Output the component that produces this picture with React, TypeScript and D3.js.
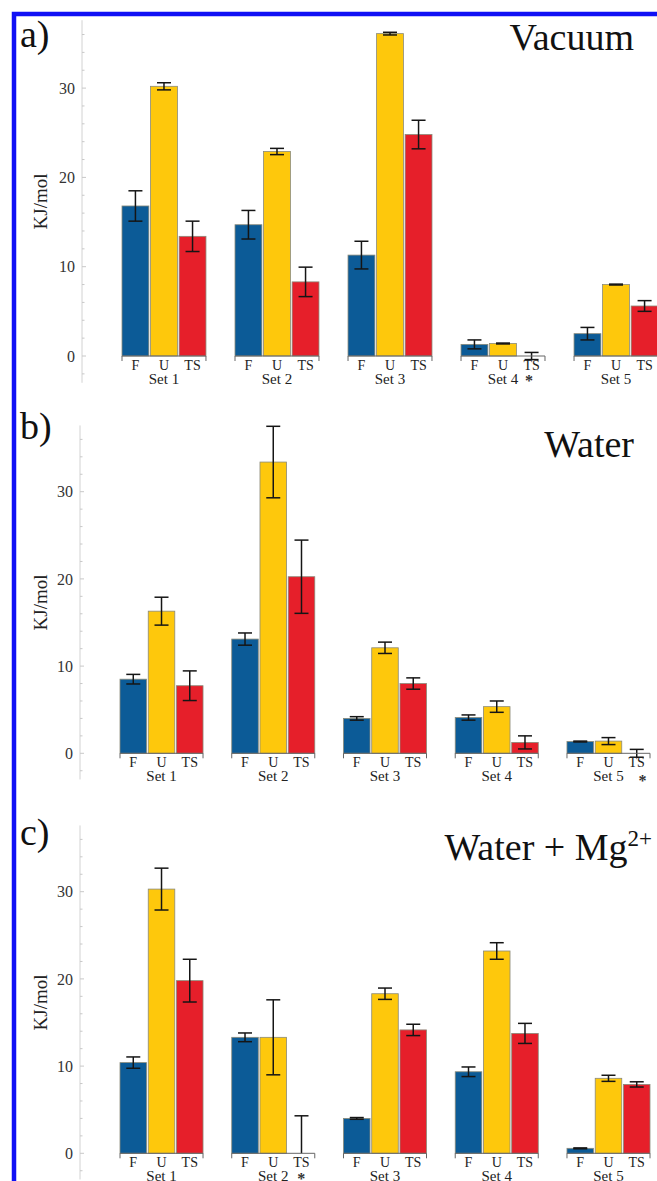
import * as d3 from "d3";

// categories
const sets = ["Set 1", "Set 2", "Set 3", "Set 4", "Set 5"];
const states = ["F", "U", "TS"];
const yTicks = [0, 10, 20, 30];

// a) vacuum
const vacuumF = [16.8, 14.7, 11.3, 1.3, 2.5];
const vacuumU = [30.2, 22.9, 36.1, 1.4, 8.0];
const vacuumTS = [13.4, 8.3, 24.8, 0, 5.6];
const vacuumErrF = [1.7, 1.6, 1.55, 0.5, 0.7];
const vacuumErrU = [0.4, 0.35, 0.15, 0.05, 0.05];
const vacuumErrTS = [1.7, 1.65, 1.6, 0.4, 0.6];

// b) water
const waterF = [8.5, 13.1, 4.0, 4.1, 1.35];
const waterU = [16.3, 33.4, 12.1, 5.35, 1.4];
const waterTS = [7.75, 20.25, 8.0, 1.25, 0];
const waterErrF = [0.55, 0.7, 0.2, 0.3, 0.05];
const waterErrU = [1.6, 4.1, 0.65, 0.65, 0.4];
const waterErrTS = [1.7, 4.2, 0.65, 0.75, 0.45];

// c) water + Mg2+
const mgF = [10.4, 13.3, 4.0, 9.35, 0.57];
const mgU = [30.3, 13.3, 18.3, 23.2, 8.6];
const mgTS = [19.8, 0, 14.15, 13.75, 7.9];
const mgErrF = [0.65, 0.5, 0.1, 0.55, 0.05];
const mgErrU = [2.4, 4.3, 0.65, 0.95, 0.35];
const mgErrTS = [2.45, 4.3, 0.65, 1.15, 0.3];

const colors = { F: "#0c5b97", U: "#fec80c", TS: "#e61f2a" };
const serif = "'Liberation Serif', 'Times New Roman', serif";

// layout of each panel (pixel frame only)
const panels = [
  {
    letter: "a)", title: "Vacuum", values: [vacuumF, vacuumU, vacuumTS], errs: [vacuumErrF, vacuumErrU, vacuumErrTS],
    starred: "Set 4", starDx: 8, starDy: 2, oneSided: "",
    y0: 356, k: 8.93, axisX: 82, x0: 122, x1: 658, letterY: 47, titleY: 50, titleX: 634,
  },
  {
    letter: "b)", title: "Water", values: [waterF, waterU, waterTS], errs: [waterErrF, waterErrU, waterErrTS],
    starred: "Set 5", starDx: 16, starDy: 5, oneSided: "",
    y0: 753.3, k: 8.72, axisX: 80, x0: 120, x1: 650, letterY: 439, titleY: 457, titleX: 634,
  },
  {
    letter: "c)", title: "Water + Mg", values: [mgF, mgU, mgTS], errs: [mgErrF, mgErrU, mgErrTS],
    starred: "Set 2", starDx: 10, starDy: 3, oneSided: "Set 2",
    y0: 1153.3, k: 8.72, axisX: 80, x0: 120, x1: 650, letterY: 845, titleY: 860, titleX: 652,
  },
];

function Panel({ p }: { p: any }) {
  const y = d3.scaleLinear().domain([-3, 37.6]).range([p.y0 + 3 * p.k, p.y0 - 37.6 * p.k]);
  const x = d3.scaleBand().domain(sets).range([p.x0, p.x1]).paddingInner(0.257).paddingOuter(0);
  const xs = d3.scaleBand().domain(states).range([0, x.bandwidth()]).paddingInner(0.06);
  const minor = d3.range(-2, 37, 2);
  const [yMin, yMax] = y.domain();

  return (
    <g>
      {/* y axis */}
      <line x1={p.axisX} x2={p.axisX} y1={y(yMin)} y2={y(yMax)} stroke="#d2d2d2" strokeWidth={1} />
      {minor.map((m) => (
        <line key={m} x1={p.axisX} x2={p.axisX + (m % 10 === 0 ? 4 : 2.5)} y1={y(m)} y2={y(m)} stroke="#c8c8c8" />
      ))}
      {yTicks.map((t) => (
        <text key={t} x={p.axisX - 7} y={y(t)} dy="0.35em" textAnchor="end" fontFamily={serif} fontSize={16} fill="#333">
          {t}
        </text>
      ))}
      <text
        transform={`translate(47,${y(17.3)}) rotate(-90)`}
        textAnchor="middle"
        fontFamily={serif}
        fontSize={19}
        fill="#222"
      >
        KJ/mol
      </text>

      <text x={20} y={p.letterY} fontFamily={serif} fontSize={38} fill="#111">{p.letter}</text>
      <text x={p.titleX} y={p.titleY} textAnchor="end" fontFamily={serif} fontSize={38} fill="#111">
        {p.title}
        {p.letter === "c)" && <tspan fontSize={23} dy={-14}>2+</tspan>}
      </text>

      {sets.map((s, i) => {
        const gx = x(s) as number;
        const w = x.bandwidth();
        return (
          <g key={s}>
            {states.map((st, j) => {
              const v = p.values[j][i];
              const e = p.errs[j][i];
              const bx = gx + (xs(st) as number);
              const cx = bx + xs.bandwidth() / 2;
              const lowHidden = st === "TS" && s === p.oneSided;
              const lo = lowHidden ? v : v - e;
              return (
                <g key={st}>
                  <rect
                    x={bx}
                    y={Math.min(y(v), y(0))}
                    width={xs.bandwidth()}
                    height={Math.abs(y(0) - y(v))}
                    fill={(colors as any)[st]}
                    stroke="#8a8a7a"
                    strokeWidth={0.8}
                  />
                  <line x1={cx} x2={cx} y1={y(lo)} y2={y(v + e)} stroke="#151515" strokeWidth={1.5} />
                  <line x1={cx - 7} x2={cx + 7} y1={y(v + e)} y2={y(v + e)} stroke="#151515" strokeWidth={1.5} />
                  {!lowHidden && (
                    <line x1={cx - 7} x2={cx + 7} y1={y(lo)} y2={y(lo)} stroke="#151515" strokeWidth={1.5} />
                  )}
                  <text x={cx} y={y(0) + 14} textAnchor="middle" fontFamily={serif} fontSize={14} fill="#222">
                    {st}
                  </text>
                </g>
              );
            })}
            {/* group bracket */}
            <path
              d={`M${gx},${y(0) + 5}V${y(0)}H${gx + w}V${y(0) + 5}`}
              fill="none"
              stroke="#666"
              strokeWidth={1}
            />
            <text x={gx + w / 2} y={y(0) + 28} textAnchor="middle" fontFamily={serif} fontSize={15} fill="#222">
              {s}
            </text>
            {s === p.starred && (
              <text
                x={gx + w / 2 + 18 + p.starDx}
                y={y(0) + 28 + p.starDy}
                textAnchor="middle"
                fontFamily={serif}
                fontSize={16}
                fontWeight="bold"
                fill="#333"
              >
                *
              </text>
            )}
          </g>
        );
      })}
    </g>
  );
}

export default function App() {
  return (
    <svg
      width={657}
      height={1181}
      viewBox="0 0 657 1181"
      style={{ position: "absolute", left: 0, top: 0, background: "#fff" }}
    >
      <rect x={0} y={0} width={657} height={1181} fill="#fff" />
      {panels.map((p) => (
        <Panel key={p.letter} p={p} />
      ))}
      {/* blue frame, cut by the page edge */}
      <rect x={14} y={14} width={700} height={1250} fill="none" stroke="#1010f5" strokeWidth={4.5} />
    </svg>
  );
}
